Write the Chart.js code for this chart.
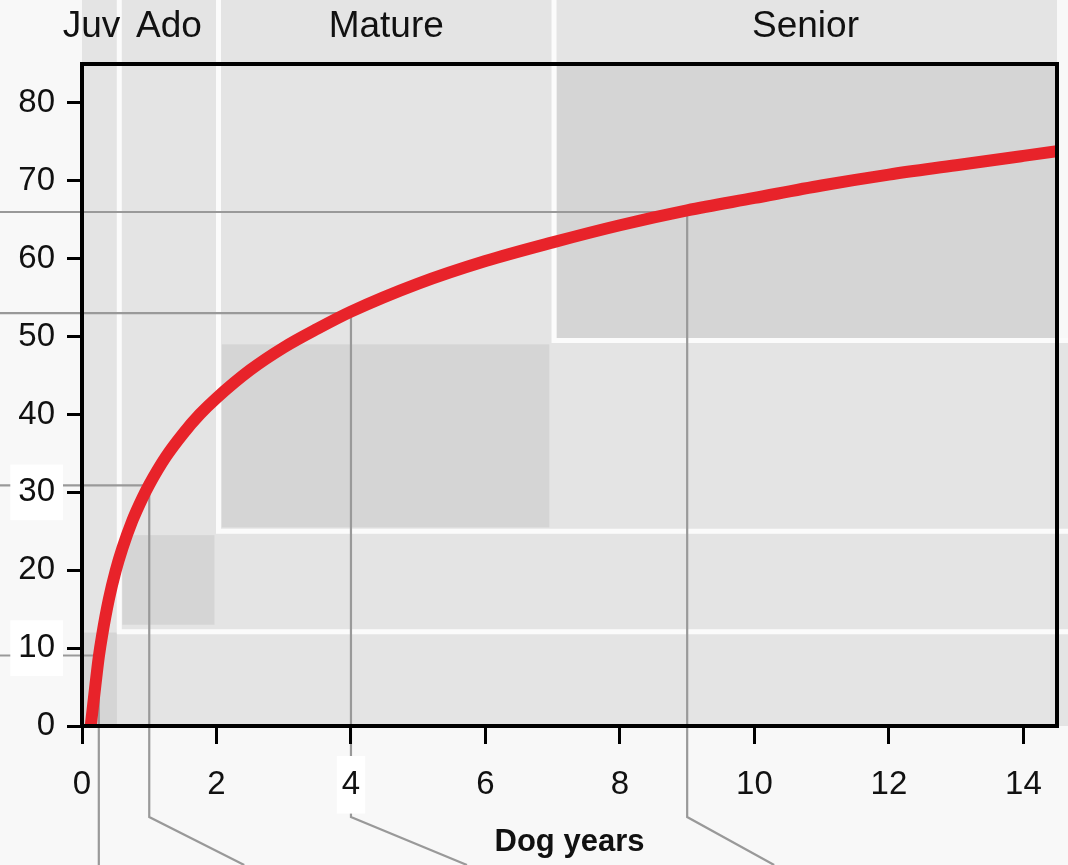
<!DOCTYPE html>
<html>
<head>
<meta charset="utf-8">
<script src="https://cdn.jsdelivr.net/npm/chart.js@4.4.1/dist/chart.umd.min.js"></script>
<style>
  html, body { margin: 0; padding: 0; background: #f8f8f8; }
  #wrap { width: 1068px; height: 865px; position: relative; }
</style>
</head>
<body>
<div id="wrap"><canvas id="dogChart"></canvas></div>
<script>
// curve: dog age -> human age
const dogYears   = [0.13, 0.2, 0.25, 0.3, 0.4, 0.5, 0.6, 0.75, 0.9, 1, 1.25, 1.5, 1.75, 2, 2.5, 3, 3.5, 4, 5, 6, 7, 8, 9, 10, 11, 12, 13, 14, 14.5];
const humanYears = [0, 5.3, 8.9, 11.7, 16.3, 19.9, 22.8, 26.4, 29.3, 31, 34.6, 37.5, 40, 42.1, 45.7, 48.6, 51, 53.2, 56.8, 59.7, 62.1, 64.3, 66.2, 67.8, 69.4, 70.8, 72, 73.2, 73.8];

// life stages (where each one starts, in dog years and human years)
const stageNames      = ['Juv', 'Ado', 'Mature', 'Senior'];
const stageDogStart   = [0, 0.555, 2.03, 7.02];
const stageHumanStart = [0, 12.1, 25, 49.5];

// darker block of each stage
const blockDogFrom   = [0, 0.6, 2.08, 7.06];
const blockDogTo     = [0.52, 1.97, 6.95, 14.5];
const blockHumanFrom = [0, 13, 25.5, 49.8];
const blockHumanTo   = [12, 24.5, 49, 85];

// marked points with grey guide lines
const markDog   = [0.25, 1, 4, 9];
const markHuman = [9.05, 30.9, 53, 66];
const leaderShift = [0, 95, 116, 87]; // px the guide runs off to the right at the bottom

const xTicks = [0, 2, 4, 6, 8, 10, 12, 14];
const yTicks = [0, 10, 20, 30, 40, 50, 60, 70, 80];
const xBoxed = [4];
const yBoxed = [10, 30];

const FONT = '"Liberation Sans", Arial, Helvetica, sans-serif';

const stagePlugin = {
  id: 'stages',
  beforeDraw(chart) {
    const { ctx, chartArea: a, scales: { x, y }, width, height } = chart;
    ctx.save();
    ctx.fillStyle = '#f8f8f8';
    ctx.fillRect(0, 0, width, height);

    // light background incl. the header strip
    ctx.fillStyle = '#e4e4e4';
    ctx.fillRect(a.left, 0, a.right - a.left, a.bottom);
    const ySen = y.getPixelForValue(stageHumanStart[3]);
    ctx.fillRect(a.right, ySen, width - a.right, a.bottom - ySen);

    // darker blocks
    ctx.fillStyle = '#d5d5d5';
    for (let i = 0; i < stageNames.length; i++) {
      const x0 = x.getPixelForValue(blockDogFrom[i]);
      const x1 = x.getPixelForValue(blockDogTo[i]);
      const y0 = y.getPixelForValue(blockHumanTo[i]);
      const y1 = y.getPixelForValue(blockHumanFrom[i]);
      ctx.fillRect(x0, y0, x1 - x0, y1 - y0);
    }

    // white stage borders
    ctx.strokeStyle = '#fbfbfb';
    ctx.lineWidth = 5;
    for (let i = 1; i < stageNames.length; i++) {
      const px = x.getPixelForValue(stageDogStart[i]);
      const py = y.getPixelForValue(stageHumanStart[i]);
      ctx.beginPath();
      ctx.moveTo(px, 0);
      ctx.lineTo(px, py);
      ctx.lineTo(width, py);
      ctx.stroke();
    }

    // stage names in the header
    ctx.font = '37px ' + FONT;
    ctx.fillStyle = '#111';
    ctx.textBaseline = 'alphabetic';
    for (let i = 0; i < stageNames.length; i++) {
      const left = i === 0 ? a.left : x.getPixelForValue(stageDogStart[i]);
      const right = i < stageNames.length - 1 ? x.getPixelForValue(stageDogStart[i + 1]) : a.right;
      const w = ctx.measureText(stageNames[i]).width;
      if (w > right - left) {
        ctx.textAlign = 'right';
        ctx.fillText(stageNames[i], right + 1, 37);
      } else {
        ctx.textAlign = 'center';
        ctx.fillText(stageNames[i], (left + right) / 2, 37);
      }
    }

    // grey guide lines
    ctx.strokeStyle = '#999999';
    ctx.lineWidth = 2.2;
    for (let i = 0; i < markDog.length; i++) {
      const px = x.getPixelForValue(markDog[i]);
      const py = y.getPixelForValue(markHuman[i]);
      ctx.beginPath();
      ctx.moveTo(0, py);
      ctx.lineTo(px, py);
      if (leaderShift[i] === 0) {
        ctx.lineTo(px, height);
      } else {
        ctx.lineTo(px, a.bottom + 91);
        ctx.lineTo(px + leaderShift[i], height);
      }
      ctx.stroke();
    }
    ctx.restore();
  },
  afterDatasetsDraw(chart) {
    const { ctx, chartArea: a } = chart;
    ctx.save();
    ctx.strokeStyle = '#000';
    ctx.lineWidth = 4;
    ctx.strokeRect(a.left, a.top, a.right - a.left, a.bottom - a.top);
    ctx.restore();
  }
};

const ctx = document.getElementById('dogChart').getContext('2d');

new Chart(ctx, {
  type: 'line',
  data: {
    datasets: [{
      data: dogYears.map((d, i) => ({ x: d, y: humanYears[i] })),
      borderColor: '#e8232a',
      borderWidth: 12,
      pointRadius: 0,
      fill: false,
      cubicInterpolationMode: 'monotone',
      clip: 0
    }]
  },
  options: {
    responsive: true,
    maintainAspectRatio: false,
    animation: false,
    layout: { padding: { top: 64, right: 11, left: 0, bottom: 0 } },
    plugins: {
      legend: { display: false },
      tooltip: { enabled: false }
    },
    scales: {
      x: {
        type: 'linear',
        min: 0,
        max: 14.5,
        afterBuildTicks: s => { s.ticks = xTicks.map(v => ({ value: v })); },
        afterFit: s => { s.height = 139; },
        border: { display: false },
        grid: { display: true, drawOnChartArea: false, drawTicks: true, tickLength: 18, tickWidth: 3, tickColor: '#000' },
        ticks: {
          color: '#111',
          font: { family: FONT, size: 33 },
          padding: 21,
          maxRotation: 0,
          showLabelBackdrop: c => xBoxed.includes(c.tick && c.tick.value),
          backdropColor: '#ffffff',
          backdropPadding: { top: 9, bottom: 9, left: 5, right: 5 }
        },
        title: {
          display: true,
          text: 'Dog years',
          color: '#111',
          font: { family: FONT, size: 31, weight: 'bold' },
          padding: { top: 0, bottom: 4 }
        }
      },
      y: {
        type: 'linear',
        min: 0,
        max: 85,
        afterBuildTicks: s => { s.ticks = yTicks.map(v => ({ value: v })); },
        afterFit: s => { s.width = 82; },
        border: { display: false },
        grid: { display: true, drawOnChartArea: false, drawTicks: true, tickLength: 15, tickWidth: 3, tickColor: '#000' },
        ticks: {
          color: '#111',
          font: { family: FONT, size: 33 },
          padding: 12,
          showLabelBackdrop: c => yBoxed.includes(c.tick && c.tick.value),
          backdropColor: '#ffffff',
          backdropPadding: { top: 8, bottom: 8, left: 8, right: 8 }
        }
      }
    }
  },
  plugins: [stagePlugin]
});
</script>
</body>
</html>
